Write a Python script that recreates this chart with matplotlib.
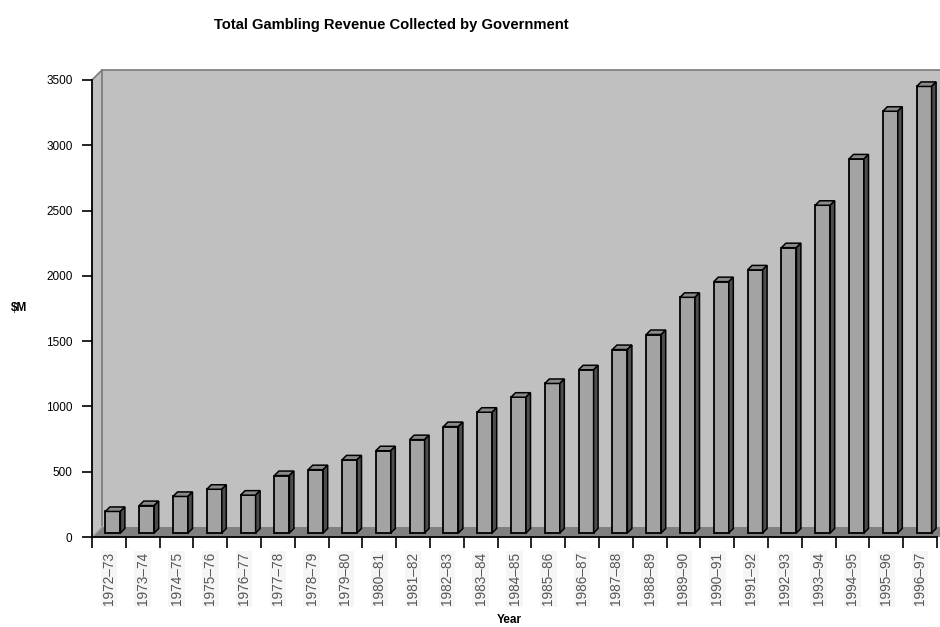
import numpy as np
import matplotlib
matplotlib.use("Agg")
import matplotlib.pyplot as plt
from matplotlib.patches import Polygon, Rectangle

plt.rcParams['font.family'] = ['Liberation Sans', 'DejaVu Sans']

years = ['1972–73', '1973–74', '1974–75', '1975–76', '1976–77', '1977–78', '1978–79',
         '1979–80', '1980–81', '1981–82', '1982–83', '1983–84', '1984–85', '1985–86',
         '1986–87', '1987–88', '1988–89', '1989–90', '1990–91', '1991–92', '1992–93',
         '1993–94', '1994–95', '1995–96', '1996–97']
revenue = [165, 210, 280, 335, 290, 440, 485, 560, 630, 715, 815, 925, 1040, 1145,
           1250, 1405, 1520, 1805, 1925, 2015, 2185, 2510, 2865, 3230, 3420]
ymax = 3500

W, H, DPI = 940, 627, 100
fig = plt.figure(figsize=(W / DPI, H / DPI), dpi=DPI)
left, right, bottom, top = 92, 937, 537, 80
ax = fig.add_axes([left / W, (H - bottom) / H, (right - left) / W, (bottom - top) / H])
n = len(revenue)
ax.set_xlim(0, n)
ax.set_ylim(0, ymax)
ax.patch.set_visible(False)

# pixel -> data conversions for the fake 3d depth
sx = (right - left) / n
sy = (bottom - top) / ymax
def dxy(px):
    return px / sx, px / sy

wx, wy = dxy(10)      # wall depth
ox, oy = dxy(4)       # bar offset into the depth
bx, by = dxy(4.5)     # bar depth
bw = 15 / sx          # bar front width

wall = '#c0c0c0'
floor = '#808080'
edge = '#7a7a7a'

# side wall, back wall, floor
ax.add_patch(Polygon([(0, 0), (0, ymax), (wx, ymax + wy), (wx, wy)], closed=True,
                     facecolor=wall, edgecolor='none', clip_on=False, zorder=0))
ax.add_patch(Rectangle((wx, wy), n, ymax, facecolor=wall, edgecolor='none',
                       clip_on=False, zorder=0))
ax.plot([0, wx, n + wx + 1], [ymax, ymax + wy, ymax + wy], color=edge, lw=1.2,
        clip_on=False, zorder=1)
ax.plot([wx, wx], [wy, ymax + wy], color=edge, lw=1.2, clip_on=False, zorder=1)
ax.add_patch(Polygon([(0, 0), (n + 1, 0), (n + 1 + wx, wy), (wx, wy)], closed=True,
                     facecolor=floor, edgecolor='none', clip_on=False, zorder=1))
ax.plot([0, wx], [0, wy], color='#a8a8a8', lw=1, zorder=1)

# bars: front face, top and side
x0 = np.arange(n) + 0.5 - bw / 2 + ox
ax.bar(x0, revenue, width=bw, bottom=oy, align='edge', facecolor='#a3a3a3',
       edgecolor='black', linewidth=1.3, zorder=3, clip_on=False)
for xl, v in zip(x0, revenue):
    yt = v + oy
    ax.add_patch(Polygon([(xl, yt), (xl + bw, yt), (xl + bw + bx, yt + by), (xl + bx, yt + by)],
                         closed=True, facecolor='#8a8a8a', edgecolor='black', lw=1.1,
                         zorder=3, clip_on=False))
    ax.add_patch(Polygon([(xl + bw, oy), (xl + bw, yt), (xl + bw + bx, yt + by), (xl + bw + bx, oy + by)],
                         closed=True, facecolor='#4d4d4d', edgecolor='black', lw=1.1,
                         zorder=3, clip_on=False))

# axes lines and ticks
for s in ['top', 'right']:
    ax.spines[s].set_visible(False)
for s in ['left', 'bottom']:
    ax.spines[s].set_linewidth(1.3)
    ax.spines[s].set_zorder(4)
ax.set_yticks(np.arange(0, ymax + 1, 500))
ax.tick_params(axis='y', direction='out', length=7, width=1.2, labelsize=8.5, pad=7)
ax.set_xticks(np.arange(n + 1))
ax.set_xticklabels([])
ax.tick_params(axis='x', direction='out', length=8, width=1.2)
for i, lab in enumerate(years):
    ax.text(i + 0.5, -115, lab, rotation=90, ha='center', va='top', fontsize=9.8,
            color='#555555', bbox=dict(facecolor='#f5f5f5', edgecolor='none', pad=1))

fig.text(391 / W, 1 - 25 / H, 'Total Gambling Revenue Collected by Government',
         ha='center', va='center', fontsize=10.6, fontweight='bold')
fig.text(19 / W, 1 - 308 / H, '$M', ha='center', va='center', fontsize=8.5, fontweight='bold')
fig.text(509 / W, 1 - 620 / H, 'Year', ha='center', va='center', fontsize=8.5, fontweight='bold')

fig.savefig('out.png', dpi=DPI)
